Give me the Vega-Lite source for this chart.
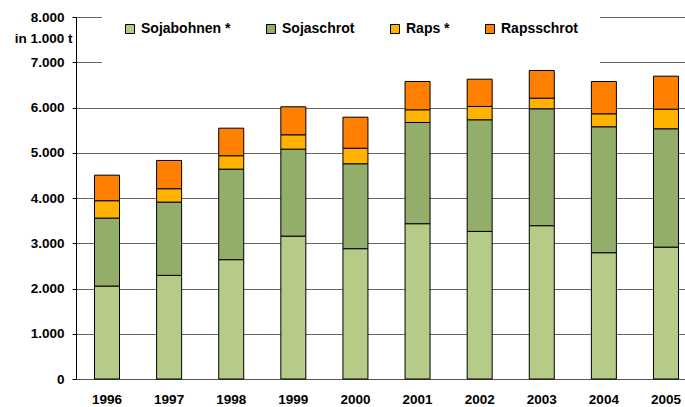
{
  "$schema": "https://vega.github.io/schema/vega-lite/v6.json",
  "autosize": "none",
  "width": 609,
  "height": 362,
  "padding": {"left": 76, "top": 17, "right": 0, "bottom": 28},
  "background": "white",
  "config": {
    "view": {"stroke": null},
    "locale": {"number": {"decimal": ",", "thousands": ".", "grouping": [3], "currency": ["", " €"]}},
    "font": "Liberation Sans"
  },
  "data": {
    "values": [
      {"Jahr": "1996", "Produkt": "Sojabohnen *", "Menge": 2054},
      {"Jahr": "1996", "Produkt": "Sojaschrot", "Menge": 1502},
      {"Jahr": "1996", "Produkt": "Raps *", "Menge": 384},
      {"Jahr": "1996", "Produkt": "Rapsschrot", "Menge": 565},
      {"Jahr": "1997", "Produkt": "Sojabohnen *", "Menge": 2290},
      {"Jahr": "1997", "Produkt": "Sojaschrot", "Menge": 1619},
      {"Jahr": "1997", "Produkt": "Raps *", "Menge": 296},
      {"Jahr": "1997", "Produkt": "Rapsschrot", "Menge": 625},
      {"Jahr": "1998", "Produkt": "Sojabohnen *", "Menge": 2637},
      {"Jahr": "1998", "Produkt": "Sojaschrot", "Menge": 2001},
      {"Jahr": "1998", "Produkt": "Raps *", "Menge": 296},
      {"Jahr": "1998", "Produkt": "Rapsschrot", "Menge": 609},
      {"Jahr": "1999", "Produkt": "Sojabohnen *", "Menge": 3158},
      {"Jahr": "1999", "Produkt": "Sojaschrot", "Menge": 1922},
      {"Jahr": "1999", "Produkt": "Raps *", "Menge": 317},
      {"Jahr": "1999", "Produkt": "Rapsschrot", "Menge": 619},
      {"Jahr": "2000", "Produkt": "Sojabohnen *", "Menge": 2880},
      {"Jahr": "2000", "Produkt": "Sojaschrot", "Menge": 1877},
      {"Jahr": "2000", "Produkt": "Raps *", "Menge": 343},
      {"Jahr": "2000", "Produkt": "Rapsschrot", "Menge": 686},
      {"Jahr": "2001", "Produkt": "Sojabohnen *", "Menge": 3432},
      {"Jahr": "2001", "Produkt": "Sojaschrot", "Menge": 2237},
      {"Jahr": "2001", "Produkt": "Raps *", "Menge": 281},
      {"Jahr": "2001", "Produkt": "Rapsschrot", "Menge": 625},
      {"Jahr": "2002", "Produkt": "Sojabohnen *", "Menge": 3262},
      {"Jahr": "2002", "Produkt": "Sojaschrot", "Menge": 2467},
      {"Jahr": "2002", "Produkt": "Raps *", "Menge": 294},
      {"Jahr": "2002", "Produkt": "Rapsschrot", "Menge": 603},
      {"Jahr": "2003", "Produkt": "Sojabohnen *", "Menge": 3388},
      {"Jahr": "2003", "Produkt": "Sojaschrot", "Menge": 2584},
      {"Jahr": "2003", "Produkt": "Raps *", "Menge": 234},
      {"Jahr": "2003", "Produkt": "Rapsschrot", "Menge": 612},
      {"Jahr": "2004", "Produkt": "Sojabohnen *", "Menge": 2791},
      {"Jahr": "2004", "Produkt": "Sojaschrot", "Menge": 2783},
      {"Jahr": "2004", "Produkt": "Raps *", "Menge": 287},
      {"Jahr": "2004", "Produkt": "Rapsschrot", "Menge": 714},
      {"Jahr": "2005", "Produkt": "Sojabohnen *", "Menge": 2915},
      {"Jahr": "2005", "Produkt": "Sojaschrot", "Menge": 2615},
      {"Jahr": "2005", "Produkt": "Raps *", "Menge": 433},
      {"Jahr": "2005", "Produkt": "Rapsschrot", "Menge": 729}
    ]
  },
  "transform": [
    {"calculate": "indexof(['Sojabohnen *', 'Sojaschrot', 'Raps *', 'Rapsschrot'], datum.Produkt)", "as": "Stapelfolge"}
  ],
  "mark": {"type": "bar", "stroke": "black", "strokeWidth": 1},
  "encoding": {
    "x": {
      "field": "Jahr",
      "type": "ordinal",
      "scale": {"range": [0, 621], "paddingInner": 0.5974, "paddingOuter": 0.298},
      "axis": {
        "title": null,
        "labelAngle": 0,
        "ticks": false,
        "labelPadding": 13,
        "labelFont": "Liberation Sans",
        "labelFontWeight": "bold",
        "labelFontSize": 13.5,
        "labelColor": "black",
        "domainColor": "#555",
        "domainWidth": 1.2
      }
    },
    "y": {
      "field": "Menge",
      "type": "quantitative",
      "stack": "zero",
      "scale": {"domain": [0, 8000], "nice": false},
      "axis": {
        "values": [0, 1000, 2000, 3000, 4000, 5000, 6000, 7000, 8000],
        "format": ",d",
        "tickSize": 4,
        "tickColor": "black",
        "labelPadding": 8,
        "labelFont": "Liberation Sans",
        "labelFontWeight": "bold",
        "labelFontSize": 13.5,
        "labelColor": "black",
        "domainColor": "black",
        "domainWidth": 1,
        "gridColor": "#666",
        "gridWidth": 1.2,
        "title": "in 1.000 t",
        "titleAngle": 0,
        "titleAlign": "right",
        "titleBaseline": "middle",
        "titleX": -4,
        "titleY": 21,
        "titleFont": "Liberation Sans",
        "titleFontWeight": "bold",
        "titleFontSize": 13.5,
        "titleColor": "black"
      }
    },
    "order": {"field": "Stapelfolge", "type": "quantitative", "sort": "ascending"},
    "color": {
      "field": "Produkt",
      "type": "nominal",
      "sort": ["Sojabohnen *", "Sojaschrot", "Raps *", "Rapsschrot"],
      "scale": {
        "domain": ["Sojabohnen *", "Sojaschrot", "Raps *", "Rapsschrot"],
        "range": ["#B6CB87", "#93AD6B", "#FFB300", "#FF8000"]
      },
      "legend": {
        "orient": "none",
        "direction": "horizontal",
        "legendX": 26,
        "legendY": -16,
        "fillColor": "white",
        "padding": 21,
        "title": " ",
        "titleOrient": "bottom",
        "titleFontSize": 6,
        "titlePadding": 2,
        "symbolType": "square",
        "symbolSize": 81,
        "symbolStrokeColor": "black",
        "symbolStrokeWidth": 1,
        "symbolOpacity": 1,
        "labelOffset": 4,
        "labelFont": "Liberation Sans",
        "labelFontWeight": "bold",
        "labelFontSize": 14,
        "labelColor": "black",
        "columnPadding": 33
      }
    }
  }
}
